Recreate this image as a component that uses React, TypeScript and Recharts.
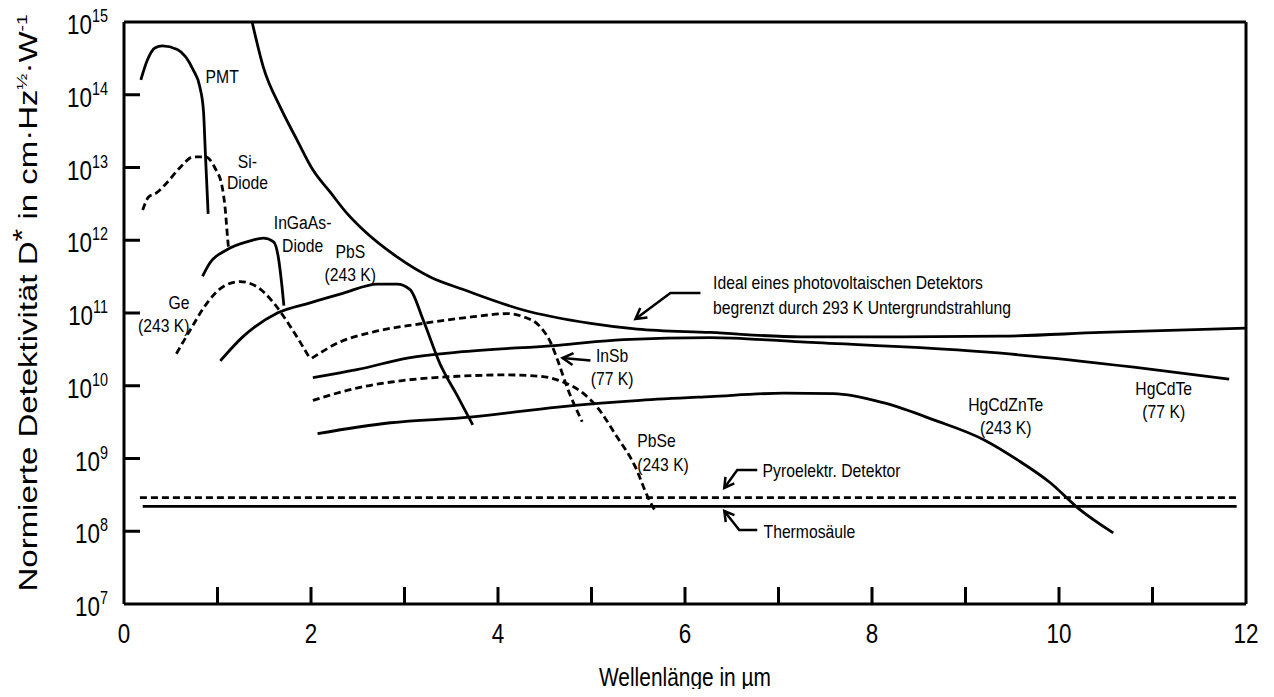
import { LineChart, Line, XAxis, YAxis, ReferenceLine, ReferenceDot } from 'recharts'

const FONT = '"Liberation Sans", Arial, Helvetica, sans-serif'

// Wellenlänge in µm (w) / spezifische Detektivität D* in cm·Hz^½·W^-1 (d)
const pmt = [
  { w: 0.18, d: 1.6e14 },
  { w: 0.25, d: 3.0e14 },
  { w: 0.33, d: 4.4e14 },
  { w: 0.41, d: 4.7e14 },
  { w: 0.57, d: 4.2e14 },
  { w: 0.74, d: 2.2e14 },
  { w: 0.81, d: 1.3e14 },
  { w: 0.85, d: 6.0e13 },
  { w: 0.87, d: 1.6e13 },
  { w: 0.9, d: 2.3e12 },
]

const siDiode = [
  { w: 0.2, d: 2.6e12 },
  { w: 0.26, d: 3.9e12 },
  { w: 0.35, d: 4.5e12 },
  { w: 0.46, d: 6.2e12 },
  { w: 0.6, d: 1.0e13 },
  { w: 0.74, d: 1.4e13 },
  { w: 0.87, d: 1.4e13 },
  { w: 0.97, d: 1.0e13 },
  { w: 1.05, d: 5.4e12 },
  { w: 1.08, d: 2.9e12 },
  { w: 1.11, d: 1.0e12 },
  { w: 1.12, d: 7.4e11 },
]

const inGaAs = [
  { w: 0.84, d: 3.2e11 },
  { w: 0.92, d: 4.9e11 },
  { w: 1.1, d: 7.4e11 },
  { w: 1.35, d: 9.8e11 },
  { w: 1.49, d: 1.07e12 },
  { w: 1.6, d: 9.5e11 },
  { w: 1.65, d: 5.9e11 },
  { w: 1.69, d: 2.3e11 },
  { w: 1.71, d: 1.26e11 },
]

const ge = [
  { w: 0.56, d: 2.75e10 },
  { w: 0.71, d: 5.9e10 },
  { w: 0.89, d: 1.38e11 },
  { w: 1.06, d: 2.3e11 },
  { w: 1.24, d: 2.7e11 },
  { w: 1.42, d: 2.3e11 },
  { w: 1.6, d: 1.38e11 },
  { w: 1.78, d: 6.5e10 },
  { w: 1.99, d: 2.35e10 },
]

const pbs = [
  { w: 1.03, d: 2.2e10 },
  { w: 1.27, d: 4.7e10 },
  { w: 1.64, d: 1.0e11 },
  { w: 1.99, d: 1.38e11 },
  { w: 2.34, d: 1.86e11 },
  { w: 2.71, d: 2.5e11 },
  { w: 2.92, d: 2.5e11 },
  { w: 3.06, d: 2.1e11 },
  { w: 3.2, d: 8.0e10 },
  { w: 3.38, d: 2.0e10 },
  { w: 3.57, d: 7.1e9 },
  { w: 3.73, d: 2.9e9 },
]

const inSb = [
  { w: 2.01, d: 2.4e10 },
  { w: 2.31, d: 4.0e10 },
  { w: 2.67, d: 5.5e10 },
  { w: 3.2, d: 7.2e10 },
  { w: 3.74, d: 8.9e10 },
  { w: 4.1, d: 9.8e10 },
  { w: 4.27, d: 8.9e10 },
  { w: 4.45, d: 6.5e10 },
  { w: 4.56, d: 4.0e10 },
  { w: 4.64, d: 2.2e10 },
  { w: 4.74, d: 9.5e9 },
  { w: 4.9, d: 3.2e9 },
]

const hgCdTe = [
  { w: 2.02, d: 1.29e10 },
  { w: 2.49, d: 1.66e10 },
  { w: 3.03, d: 2.4e10 },
  { w: 3.57, d: 2.9e10 },
  { w: 4.64, d: 3.6e10 },
  { w: 5.34, d: 4.3e10 },
  { w: 6.27, d: 4.6e10 },
  { w: 7.24, d: 4.0e10 },
  { w: 9.38, d: 2.8e10 },
  { w: 10.8, d: 1.8e10 },
  { w: 11.82, d: 1.23e10 },
]

const pbSe = [
  { w: 2.02, d: 6.3e9 },
  { w: 2.49, d: 9.3e9 },
  { w: 3.03, d: 1.2e10 },
  { w: 3.57, d: 1.35e10 },
  { w: 4.1, d: 1.41e10 },
  { w: 4.45, d: 1.35e10 },
  { w: 4.7, d: 1.12e10 },
  { w: 4.91, d: 7.9e9 },
  { w: 5.06, d: 5.1e9 },
  { w: 5.26, d: 2.1e9 },
  { w: 5.47, d: 7.6e8 },
  { w: 5.6, d: 3.0e8 },
  { w: 5.69, d: 1.8e8 },
]

const hgCdZnTe = [
  { w: 2.07, d: 2.2e9 },
  { w: 2.85, d: 3.1e9 },
  { w: 3.7, d: 3.7e9 },
  { w: 4.64, d: 5.1e9 },
  { w: 5.52, d: 6.3e9 },
  { w: 6.27, d: 7.1e9 },
  { w: 7.06, d: 7.9e9 },
  { w: 7.59, d: 7.8e9 },
  { w: 8.13, d: 5.8e9 },
  { w: 8.66, d: 3.4e9 },
  { w: 9.2, d: 1.8e9 },
  { w: 9.56, d: 9.5e8 },
  { w: 9.91, d: 4.6e8 },
  { w: 10.2, d: 2.1e8 },
  { w: 10.58, d: 9.5e7 },
]

const idealPV = [
  { w: 1.37, d: 1.0e15 },
  { w: 1.49, d: 2.4e14 },
  { w: 1.67, d: 6.8e13 },
  { w: 1.85, d: 2.4e13 },
  { w: 2.02, d: 9.3e12 },
  { w: 2.21, d: 4.5e12 },
  { w: 2.39, d: 2.3e12 },
  { w: 2.56, d: 1.38e12 },
  { w: 2.92, d: 5.9e11 },
  { w: 3.28, d: 3.1e11 },
  { w: 3.63, d: 2.1e11 },
  { w: 4.27, d: 1.1e11 },
  { w: 4.99, d: 7.2e10 },
  { w: 5.49, d: 6.0e10 },
  { w: 6.27, d: 5.4e10 },
  { w: 7.24, d: 4.7e10 },
  { w: 8.31, d: 4.7e10 },
  { w: 9.38, d: 4.8e10 },
  { w: 10.45, d: 5.4e10 },
  { w: 12.0, d: 6.2e10 },
]

const pyro = [
  { w: 0.17, d: 2.9e8 },
  { w: 11.9, d: 2.9e8 },
]

const thermo = [
  { w: 0.2, d: 2.2e8 },
  { w: 11.9, d: 2.2e8 },
]

const X_TICKS = [0, 1, 2, 3, 4, 5, 6, 7, 8, 9, 10, 11, 12]
const Y_TICKS = [1e7, 1e8, 1e9, 1e10, 1e11, 1e12, 1e13, 1e14, 1e15]

const SERIES = [
  { key: 'pmt', data: pmt, dashed: false },
  { key: 'si', data: siDiode, dashed: true },
  { key: 'ingaas', data: inGaAs, dashed: false },
  { key: 'ge', data: ge, dashed: true },
  { key: 'pbs', data: pbs, dashed: false },
  { key: 'insb', data: inSb, dashed: true },
  { key: 'hgcdte', data: hgCdTe, dashed: false },
  { key: 'pbse', data: pbSe, dashed: true },
  { key: 'hgcdznte', data: hgCdZnTe, dashed: false },
  { key: 'ideal', data: idealPV, dashed: false },
  { key: 'pyro', data: pyro, dashed: true },
  { key: 'thermo', data: thermo, dashed: false },
]

// curve labels, anchored at (w, d)
const LABELS = [
  { w: 1.05, d: 1.75e14, lines: ['PMT'], anchor: 'middle', gap: 22 },
  { w: 1.32, d: 1.2e13, lines: ['Si-', 'Diode'], anchor: 'middle', gap: 21 },
  { w: 1.91, d: 1.73e12, lines: ['InGaAs-', 'Diode'], anchor: 'middle', gap: 23 },
  { w: 2.42, d: 6.9e11, lines: ['PbS', '(243 K)'], anchor: 'middle', gap: 23 },
  { w: 0.7, d: 1.37e11, lines: ['Ge', '(243 K)'], anchor: 'end', gap: 23 },
  { w: 5.22, d: 2.56e10, lines: ['InSb', '(77 K)'], anchor: 'middle', gap: 23 },
  { w: 5.49, d: 1.74e9, lines: ['PbSe', '(243 K)'], anchor: 'start', gap: 24 },
  { w: 9.43, d: 5.4e9, lines: ['HgCdZnTe', '(243 K)'], anchor: 'middle', gap: 23 },
  { w: 11.12, d: 9.0e9, lines: ['HgCdTe', '(77 K)'], anchor: 'middle', gap: 23 },
  {
    w: 6.3,
    d: 2.58e11,
    lines: ['Ideal eines photovoltaischen Detektors', 'begrenzt durch 293 K Untergrundstrahlung'],
    anchor: 'start',
    gap: 25,
  },
  { w: 6.83, d: 6.7e8, lines: ['Pyroelektr. Detektor'], anchor: 'start', gap: 22 },
  { w: 6.84, d: 9.8e7, lines: ['Thermosäule'], anchor: 'start', gap: 22 },
]

// pointer arrows: tip at (w, d), shaft and head drawn in px relative to the tip
const ARROWS = [
  { w: 5.47, d: 8.3e10, shaft: 'M0,0 L35,-26 L65,-26', head: 'M12,-1.5 L0,0 L4.8,-11' },
  { w: 4.69, d: 2.4e10, shaft: 'M0,0 L28,2.5', head: 'M11,-5 L0,0 L10,7' },
  { w: 6.42, d: 3.94e8, shaft: 'M0,0 L13,-18 L33,-18', head: 'M10,-4.5 L0,0 L1.2,-11' },
  { w: 6.42, d: 1.9e8, shaft: 'M0,0 L15,19 L33,19', head: 'M10.2,4.1 L0,0 L1.5,11' },
]

function YTick({ x, y, payload }: any) {
  const exp = Math.round(Math.log10(payload.value))
  const inner = exp > 7 && exp < 15
  return (
    <g>
      {inner && <line x1={x} x2={x + 16} y1={y} y2={y} stroke="#000" strokeWidth={3} />}
      <text
        transform={`translate(${x - 16},${y + 12}) scale(0.8,1)`}
        textAnchor="end"
        fontSize={28}
        fontFamily={FONT}
        fill="#000"
      >
        10
        <tspan dy={-12} fontSize={18}>
          {exp}
        </tspan>
      </text>
    </g>
  )
}

function XTick({ x, y, payload }: any) {
  const v = payload.value
  return (
    <g>
      {v > 0 && v < 12 && <line x1={x} x2={x} y1={y} y2={y - 17} stroke="#000" strokeWidth={3} />}
      {v % 2 === 0 && (
        <text
          transform={`translate(${x},${y + 39}) scale(0.8,1)`}
          textAnchor="middle"
          fontSize={28}
          fontFamily={FONT}
          fill="#000"
        >
          {v}
        </text>
      )}
    </g>
  )
}

function YTitle({ viewBox }: any) {
  const cy = viewBox.y + viewBox.height / 2 - 10
  return (
    <text
      transform={`translate(37,${cy}) rotate(-90)`}
      textAnchor="middle"
      fontSize={26}
      fontFamily={FONT}
      fill="#000"
      textLength={577}
      lengthAdjust="spacingAndGlyphs"
    >
      Normierte Detektivität D
      <tspan dy={-6}>*</tspan>
      <tspan dy={6}>{'  in  cm·Hz'}</tspan>
      <tspan dy={-10} fontSize={15}>
        ½
      </tspan>
      <tspan dy={10}>·W</tspan>
      <tspan dy={-10} fontSize={15}>
        -1
      </tspan>
    </text>
  )
}

function XTitle({ viewBox }: any) {
  return (
    <text
      x={viewBox.x + viewBox.width / 2}
      y={viewBox.y + 82}
      textAnchor="middle"
      fontSize={26}
      fontFamily={FONT}
      fill="#000"
      textLength={172}
      lengthAdjust="spacingAndGlyphs"
    >
      Wellenlänge in µm
    </text>
  )
}

function CurveLabel({ cx, cy, lines, anchor, gap }: any) {
  return (
    <g>
      {lines.map((t: string, i: number) => (
        <text
          key={t}
          transform={`translate(${cx},${cy + 6 + i * gap}) scale(0.85,1)`}
          textAnchor={anchor}
          fontSize={18.5}
          fontFamily={FONT}
          fill="#000"
        >
          {t}
        </text>
      ))}
    </g>
  )
}

function Arrow({ cx, cy, shaft, head }: any) {
  return (
    <g transform={`translate(${cx},${cy})`} fill="none" stroke="#000" strokeWidth={2.5}>
      <path d={shaft} />
      <path d={head} strokeLinejoin="miter" />
    </g>
  )
}

export default function App() {
  return (
    <div style={{ margin: -8 }}>
      <LineChart width={1274} height={697} margin={{ top: 22, right: 28, bottom: 43, left: 0 }}>
        <XAxis
          dataKey="w"
          type="number"
          domain={[0, 12]}
          ticks={X_TICKS}
          interval={0}
          allowDataOverflow
          height={50}
          tickSize={0}
          tickMargin={0}
          tickLine={false}
          axisLine={{ stroke: '#000', strokeWidth: 3 }}
          tick={<XTick />}
          label={<XTitle />}
        />
        <YAxis
          dataKey="d"
          type="number"
          scale="log"
          domain={[1e7, 1e15]}
          ticks={Y_TICKS}
          interval={0}
          allowDataOverflow
          width={124}
          tickSize={0}
          tickMargin={0}
          tickLine={false}
          axisLine={{ stroke: '#000', strokeWidth: 3 }}
          tick={<YTick />}
          label={<YTitle />}
        />
        <ReferenceLine y={1e15} stroke="#000" strokeWidth={3} />
        <ReferenceLine x={12} stroke="#000" strokeWidth={3} />
        {SERIES.map((s) => (
          <Line
            key={s.key}
            data={s.data}
            dataKey="d"
            type="monotone"
            stroke="#000"
            strokeWidth={2.8}
            strokeDasharray={s.dashed ? '7 4' : undefined}
            dot={false}
            activeDot={false}
            isAnimationActive={false}
          />
        ))}
        {LABELS.map((l) => (
          <ReferenceDot
            key={l.lines[0]}
            x={l.w}
            y={l.d}
            r={0}
            ifOverflow="visible"
            shape={(p: any) => <CurveLabel cx={p.cx} cy={p.cy} lines={l.lines} anchor={l.anchor} gap={l.gap} />}
          />
        ))}
        {ARROWS.map((a, i) => (
          <ReferenceDot
            key={i}
            x={a.w}
            y={a.d}
            r={0}
            ifOverflow="visible"
            shape={(p: any) => <Arrow cx={p.cx} cy={p.cy} shaft={a.shaft} head={a.head} />}
          />
        ))}
      </LineChart>
    </div>
  )
}
